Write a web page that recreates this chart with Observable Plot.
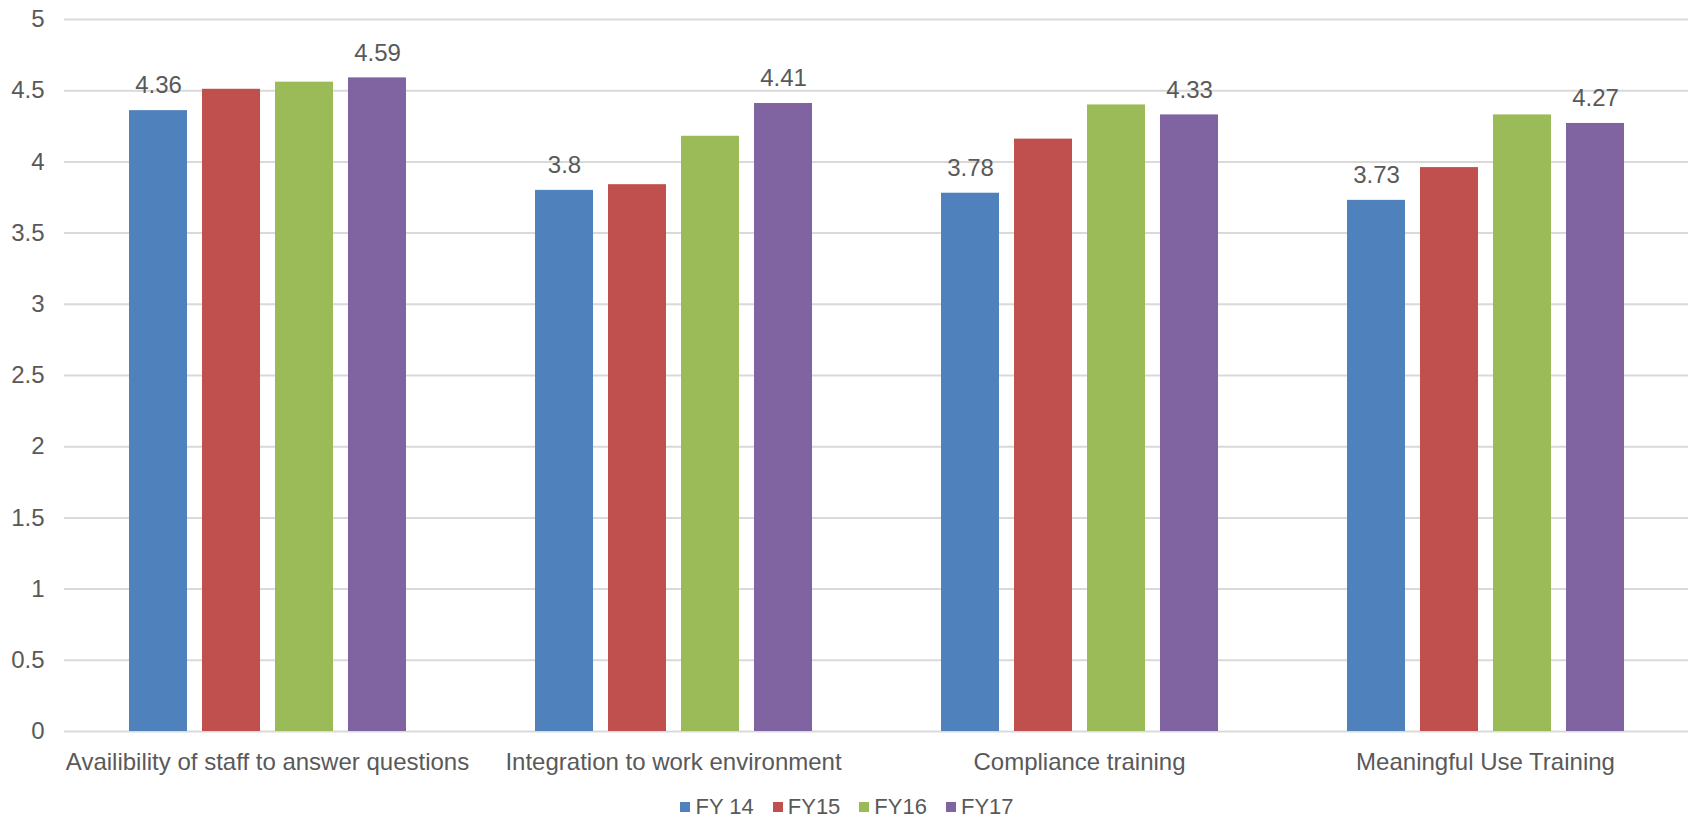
<!DOCTYPE html>
<html>
<head>
<meta charset="utf-8">
<script src="https://cdn.jsdelivr.net/npm/d3@7"></script>
<script src="https://cdn.jsdelivr.net/npm/@observablehq/plot@0.6"></script>
<style>
  html, body { margin: 0; padding: 0; background: #fff; }
  body { width: 1694px; height: 823px; overflow: hidden; font-family: "Liberation Sans", Arial, sans-serif; }
  #legend { display: flex; justify-content: center; align-items: center; gap: 19px; height: 38px; padding-top: 6px; box-sizing: border-box; color: #595959; font-size: 22px; }
  #legend .item { display: flex; align-items: center; }
  #legend .sw { width: 10px; height: 10px; margin-right: 5px; }
</style>
</head>
<body>
<div id="chart"></div>
<div id="legend"></div>
<script>
const categories = [
  "Availibility of staff to answer questions",
  "Integration to work environment",
  "Compliance training",
  "Meaningful Use Training"
];
const series = ["FY 14", "FY15", "FY16", "FY17"];
const colors = ["#4F81BD", "#C0504D", "#9BBB59", "#8064A2"];
const fy14 = [4.36, 3.80, 3.78, 3.73];
const fy15 = [4.51, 3.84, 4.16, 3.96];
const fy16 = [4.56, 4.18, 4.40, 4.33];
const fy17 = [4.59, 4.41, 4.33, 4.27];
const labelledSeries = ["FY 14", "FY17"];
const yTicks = [0, 0.5, 1, 1.5, 2, 2.5, 3, 3.5, 4, 4.5, 5];

const seriesValues = [fy14, fy15, fy16, fy17];
const data = [];
categories.forEach((c, i) => {
  series.forEach((s, j) => {
    data.push({category: c, series: s, value: seriesValues[j][i]});
  });
});

const textColor = "#595959";

const chart = Plot.plot({
  width: 1694,
  height: 785,
  marginLeft: 64,
  marginRight: 6,
  marginTop: 19,
  marginBottom: 54,
  style: {fontFamily: "'Liberation Sans', Arial, sans-serif", color: textColor, background: "#fff"},
  fx: {domain: categories, paddingInner: 0, paddingOuter: 0, label: null},
  x: {domain: series, paddingInner: 0.207, paddingOuter: 0.854, axis: null},
  y: {domain: [0, 5], label: null},
  color: {domain: series, range: colors},
  marks: [
    Plot.ruleY(yTicks, {stroke: "#D9D9D9", strokeWidth: 2}),
    Plot.barY(data, {fx: "category", x: "series", y: "value", fill: "series"}),
    Plot.text(data.filter(d => labelledSeries.includes(d.series)), {
      fx: "category", x: "series", y: "value", text: d => String(d.value),
      dy: -25, fontSize: 24, fill: textColor, textAnchor: "middle", lineAnchor: "middle"
    }),
    Plot.axisY({ticks: yTicks, tickSize: 0, tickPadding: 20, fontSize: 24, fill: textColor, tickFormat: d => String(d), label: null}),
    Plot.axisFx({anchor: "bottom", tickSize: 0, tickPadding: 21, fontSize: 24, fill: textColor, label: null})
  ]
});
document.getElementById("chart").appendChild(chart);

const legend = document.getElementById("legend");
series.forEach((s, i) => {
  const item = document.createElement("div");
  item.className = "item";
  const sw = document.createElement("span");
  sw.className = "sw";
  sw.style.background = colors[i];
  const t = document.createElement("span");
  t.textContent = s;
  item.appendChild(sw);
  item.appendChild(t);
  legend.appendChild(item);
});
</script>
</body>
</html>
